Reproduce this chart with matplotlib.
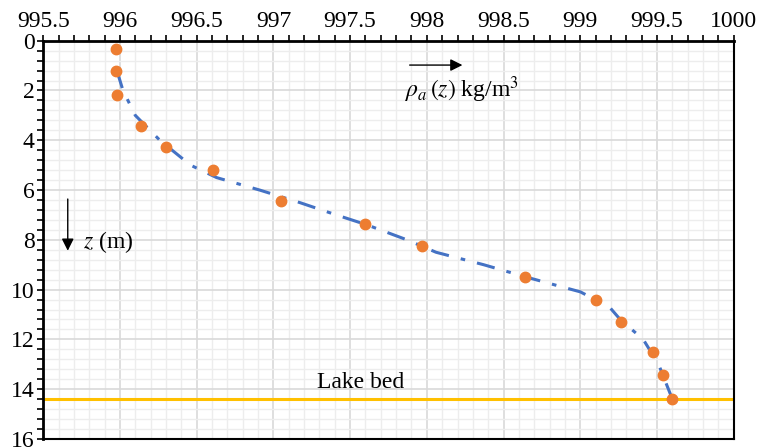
import numpy as np
import matplotlib
matplotlib.use('Agg')
import matplotlib.pyplot as plt
from matplotlib.ticker import MultipleLocator

plt.rcParams['font.family'] = ['Liberation Serif', 'DejaVu Serif']
plt.rcParams['mathtext.fontset'] = 'stix'

# measured density profile (kg/m3) vs depth (m)
rho_obs = [995.975, 995.975, 995.98, 996.138, 996.30, 996.609, 997.047, 997.594,
           997.969, 998.638, 999.10, 999.263, 999.473, 999.536, 999.597]
z_obs = [0.35, 1.22, 2.18, 3.41, 4.28, 5.21, 6.45, 7.37,
         8.25, 9.49, 10.41, 11.29, 12.52, 13.43, 14.40]

# fitted curve
rho_fit = [995.98, 996.02, 996.10, 996.26, 996.46, 996.63, 996.91, 997.17, 997.41,
           997.61, 997.87, 998.06, 998.37, 998.65, 998.88, 999.00, 999.10, 999.19,
           999.26, 999.41, 999.51, 999.60]
z_fit = [1.2, 2.0, 3.0, 4.0, 5.0, 5.5, 6.0, 6.5, 7.0,
         7.4, 8.0, 8.5, 9.0, 9.5, 9.89, 10.09, 10.41, 10.7,
         11.2, 12.0, 13.0, 14.4]

lake_bed = 14.4

fig = plt.figure(figsize=(7.58, 4.47), dpi=100)
ax = fig.add_axes([0.057, 0.018, 0.911, 0.891])

ax.plot(rho_fit, z_fit, color='#4472C4', lw=2.2, dashes=(6, 4, 1.5, 4), zorder=3)
ax.plot(rho_obs, z_obs, 'o', color='#ED7D31', ms=7.5, zorder=4)
ax.axhline(lake_bed, color='#FFC000', lw=2.2, zorder=2)

ax.set_xlim(995.5, 1000)
ax.set_ylim(16, 0)
ax.xaxis.set_major_locator(MultipleLocator(0.5))
ax.xaxis.set_minor_locator(MultipleLocator(0.1))
ax.yaxis.set_major_locator(MultipleLocator(2))
ax.yaxis.set_minor_locator(MultipleLocator(0.4))
ax.xaxis.tick_top()
ax.xaxis.set_major_formatter(plt.FuncFormatter(lambda v, p: f'{v:g}'))

ax.grid(which='major', color='#D9D9D9', lw=1.2)
ax.grid(which='minor', color='#EDEDED', lw=1.0)
ax.set_axisbelow(True)

ax.tick_params(which='both', direction='out', length=4, width=1.2, color='black')
ax.tick_params(axis='x', labelsize=17, pad=2)
ax.tick_params(axis='y', labelsize=17, pad=2)
for side in ['top', 'left']:
    ax.spines[side].set_linewidth(2)
for side in ['bottom', 'right']:
    ax.spines[side].set_linewidth(1.5)

ax.annotate('', xy=(998.25, 0.98), xytext=(997.87, 0.98),
            arrowprops=dict(arrowstyle='-|>', color='black', lw=1, mutation_scale=18))
ax.text(997.86, 1.95, r'$\rho_a\,(z)$ kg/m$^3$', fontsize=17, va='center', ha='left')

ax.annotate('', xy=(995.66, 8.55), xytext=(995.66, 6.25),
            arrowprops=dict(arrowstyle='-|>', color='black', lw=1, mutation_scale=18))
ax.text(995.76, 8.1, r'$z$ (m)', fontsize=17, va='center', ha='left')

ax.text(997.57, 13.95, 'Lake bed', fontsize=17, ha='center', va='baseline')

fig.savefig('out.png', dpi=100)
